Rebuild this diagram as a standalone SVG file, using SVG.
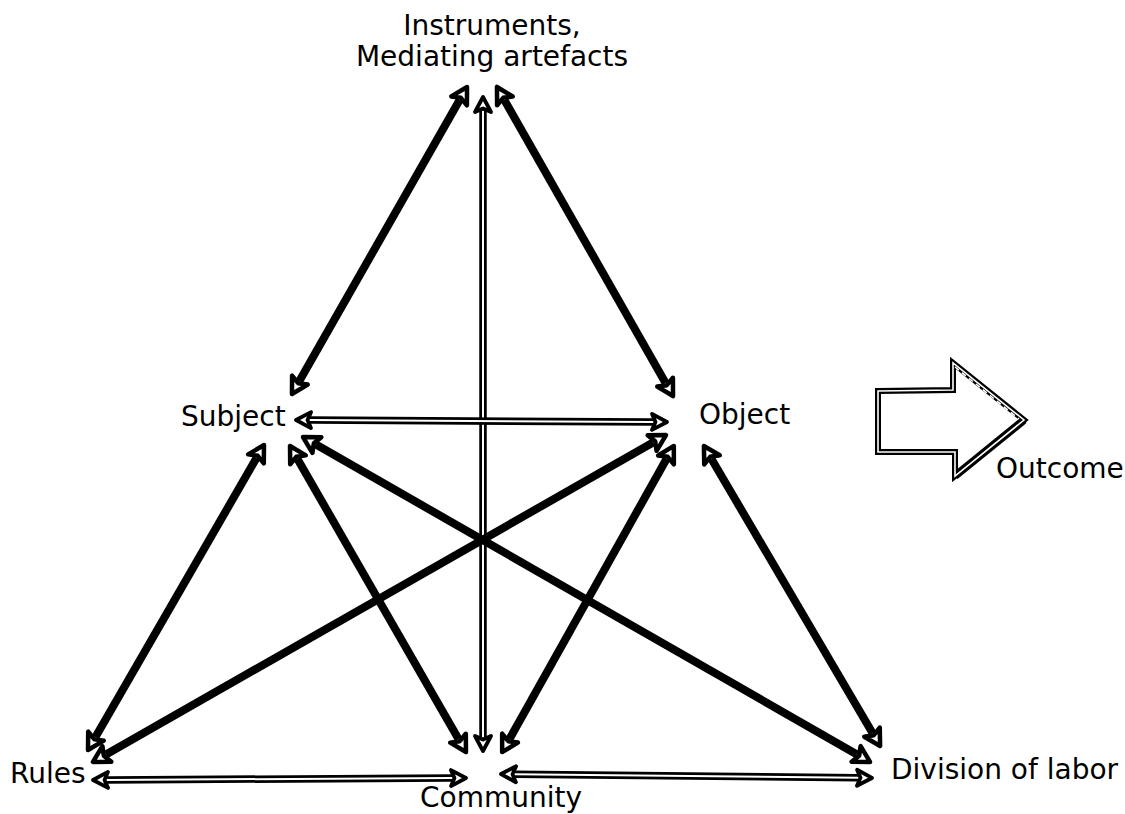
<svg xmlns="http://www.w3.org/2000/svg" width="1125" height="814" viewBox="0 0 1125 814">
<style>
text{font-family:"DejaVu Sans","Liberation Sans",sans-serif;font-size:28px;fill:#000}
.solid{stroke:#000;stroke-width:8;fill:none;marker-start:url(#hd);marker-end:url(#hd)}
.dbl{stroke:#000;stroke-width:7.5;fill:none}
.core{stroke:#fff;stroke-width:2;fill:none;marker-start:url(#hd2);marker-end:url(#hd2)}
</style>
<defs>
<marker id="hd" markerUnits="userSpaceOnUse" orient="auto-start-reverse" refX="0" refY="0" markerWidth="40" markerHeight="40" viewBox="-20 -20 40 40" overflow="visible">
<path d="M15,0 L-1,-9 L2.5,0 L-1,9 Z" fill="#fff" stroke="#000" stroke-width="4.5" stroke-linejoin="round"/>
</marker>
<marker id="hd2" markerUnits="userSpaceOnUse" orient="auto-start-reverse" refX="0" refY="0" markerWidth="40" markerHeight="40" viewBox="-20 -20 40 40" overflow="visible">
<path d="M14,0 L-1,-8 L2.5,0 L-1,8 Z" fill="#fff" stroke="#000" stroke-width="3.8" stroke-linejoin="round"/>
</marker>
</defs>
<g id="connectors">
<path class="dbl" d="M483,111 L483,737"/>
<path class="core" d="M483,111 L483,737"/>
<path class="solid" d="M299.4,381 L459.6,100"/>
<path class="solid" d="M504.4,100 L665.6,383"/>
<path class="dbl" d="M310,420.1 L653,421.9"/>
<path class="core" d="M310,420.1 L653,421.9"/>
<path class="solid" d="M256.5,458 L95.5,737"/>
<path class="solid" d="M297.5,459 L458.5,739"/>
<path class="solid" d="M316,444.5 L857,754.5"/>
<path class="solid" d="M653,442.5 L106,754.5"/>
<path class="solid" d="M666.5,459 L509.5,739"/>
<path class="solid" d="M711.5,459 L872.5,733"/>
<path class="dbl" d="M107,779.9 L452,778.1"/>
<path class="core" d="M107,779.9 L452,778.1"/>
<path class="dbl" d="M515,774.2 L858,777.8"/>
<path class="core" d="M515,774.2 L858,777.8"/>
</g>
<g id="outcome-arrow">
<path d="M878,391 L953,390 L953,363 L1024,420 L955,476 L955,452 L878,452 Z" fill="#fff" stroke="#000" stroke-width="6" stroke-linejoin="miter"/>
<path d="M1024,420 L955,476" fill="none" stroke="#000" stroke-width="8"/>
<path d="M878,391 L953,390 L953,363 L1024,420 L955,476 L955,452 L878,452 Z" fill="none" stroke="#fff" stroke-width="1.6"/>
<path d="M955,367 L1019,419" fill="none" stroke="#fff" stroke-width="1.5" stroke-dasharray="5 4"/>
</g>
<g id="node-instruments"><text x="492" y="35" text-anchor="middle">Instruments,</text><text x="492" y="66" text-anchor="middle">Mediating artefacts</text></g>
<g id="node-subject"><text x="181" y="426">Subject</text></g>
<g id="node-object"><text x="699" y="424">Object</text></g>
<g id="node-outcome"><text x="996" y="478">Outcome</text></g>
<g id="node-rules"><text x="10" y="783">Rules</text></g>
<g id="node-community"><text x="501" y="807" text-anchor="middle">Community</text></g>
<g id="node-division"><text x="891" y="779">Division of labor</text></g>
</svg>
